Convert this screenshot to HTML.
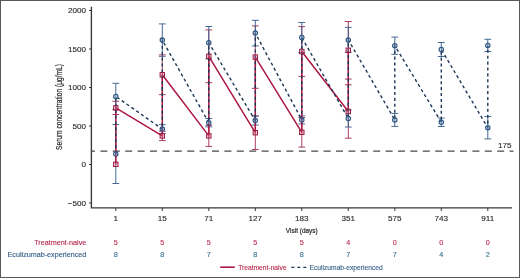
<!DOCTYPE html>
<html><head><meta charset="utf-8"><style>
html,body{margin:0;padding:0;background:#fff;}
body{width:520px;height:278px;overflow:hidden;}
svg{display:block;will-change:transform;}
text{font-family:"Liberation Sans",sans-serif;}
.tk{font-size:8.1px;fill:#262626;stroke:#262626;stroke-width:0.12px;}
.rl{font-size:7.2px;stroke-width:0.12px;}
.lg{font-size:6.7px;stroke-width:0.1px;}
.cd{font-size:8.4px;fill:#1e1e1e;stroke:#1e1e1e;stroke-width:0.2px;}
</style></head><body>
<svg width="520" height="278" viewBox="0 0 520 278">
<path d="M91.4 6.8V207.9H512" stroke="#383838" stroke-width="1.35" fill="none"/>
<path d="M89 10.5H91" stroke="#222" stroke-width="0.9"/>
<text x="86" y="13.40" text-anchor="end" class="tk">2000</text>
<path d="M89 49H91" stroke="#222" stroke-width="0.9"/>
<text x="86" y="51.90" text-anchor="end" class="tk">1500</text>
<path d="M89 87.5H91" stroke="#222" stroke-width="0.9"/>
<text x="86" y="90.40" text-anchor="end" class="tk">1000</text>
<path d="M89 126H91" stroke="#222" stroke-width="0.9"/>
<text x="86" y="128.90" text-anchor="end" class="tk">500</text>
<path d="M89 164.5H91" stroke="#222" stroke-width="0.9"/>
<text x="86" y="167.40" text-anchor="end" class="tk">0</text>
<path d="M89 203H91" stroke="#222" stroke-width="0.9"/>
<text x="86" y="205.90" text-anchor="end" class="tk">−500</text>
<path d="M115.80 207.9V211" stroke="#222" stroke-width="0.9"/>
<text x="115.80" y="221" text-anchor="middle" class="tk">1</text>
<path d="M162.30 207.9V211" stroke="#222" stroke-width="0.9"/>
<text x="162.30" y="221" text-anchor="middle" class="tk">15</text>
<path d="M208.80 207.9V211" stroke="#222" stroke-width="0.9"/>
<text x="208.80" y="221" text-anchor="middle" class="tk">71</text>
<path d="M255.30 207.9V211" stroke="#222" stroke-width="0.9"/>
<text x="255.30" y="221" text-anchor="middle" class="tk">127</text>
<path d="M301.80 207.9V211" stroke="#222" stroke-width="0.9"/>
<text x="301.80" y="221" text-anchor="middle" class="tk">183</text>
<path d="M348.30 207.9V211" stroke="#222" stroke-width="0.9"/>
<text x="348.30" y="221" text-anchor="middle" class="tk">351</text>
<path d="M394.80 207.9V211" stroke="#222" stroke-width="0.9"/>
<text x="394.80" y="221" text-anchor="middle" class="tk">575</text>
<path d="M441.30 207.9V211" stroke="#222" stroke-width="0.9"/>
<text x="441.30" y="221" text-anchor="middle" class="tk">743</text>
<path d="M487.80 207.9V211" stroke="#222" stroke-width="0.9"/>
<text x="487.80" y="221" text-anchor="middle" class="tk">911</text>
<path d="M91.8 151.1H513.5" stroke="#4a4a4a" stroke-width="1.2" stroke-dasharray="7 5.4" stroke-dashoffset="-8.6"/>
<text x="498" y="148.4" class="tk">175</text>
<path d="M115.80 101.30V114.50M112.40 101.30H119.20M112.40 114.50H119.20" stroke="#a02a50" stroke-width="0.9" fill="none"/>
<path d="M162.30 131.20V140.60M158.90 131.20H165.70M158.90 140.60H165.70" stroke="#a02a50" stroke-width="0.9" fill="none"/>
<path d="M162.30 54.85V94.65M158.90 54.85H165.70M158.90 94.65H165.70" stroke="#a02a50" stroke-width="0.9" fill="none"/>
<path d="M208.80 125.40V146.40M205.40 125.40H212.20M205.40 146.40H212.20" stroke="#a02a50" stroke-width="0.9" fill="none"/>
<path d="M208.80 29.90V82.70M205.40 29.90H212.20M205.40 82.70H212.20" stroke="#a02a50" stroke-width="0.9" fill="none"/>
<path d="M255.30 115.90V149.50M251.90 115.90H258.70M251.90 149.50H258.70" stroke="#a02a50" stroke-width="0.9" fill="none"/>
<path d="M255.30 25.90V88.30M251.90 25.90H258.70M251.90 88.30H258.70" stroke="#a02a50" stroke-width="0.9" fill="none"/>
<path d="M301.80 117.50V147.10M298.40 117.50H305.20M298.40 147.10H305.20" stroke="#a02a50" stroke-width="0.9" fill="none"/>
<path d="M301.80 26.60V76.40M298.40 26.60H305.20M298.40 76.40H305.20" stroke="#a02a50" stroke-width="0.9" fill="none"/>
<path d="M348.30 84.80V138.20M344.90 84.80H351.70M344.90 138.20H351.70" stroke="#a02a50" stroke-width="0.9" fill="none"/>
<path d="M348.30 21.50V79.10M344.90 21.50H351.70M344.90 79.10H351.70" stroke="#a02a50" stroke-width="0.9" fill="none"/>
<path d="M115.80 124.50V183.50M112.40 124.50H119.20M112.40 183.50H119.20" stroke="#33598a" stroke-width="0.9" fill="none"/>
<path d="M115.80 83.30V109.50M112.40 83.30H119.20M112.40 109.50H119.20" stroke="#33598a" stroke-width="0.9" fill="none"/>
<path d="M162.30 124.60V133.60M158.90 124.60H165.70M158.90 133.60H165.70" stroke="#33598a" stroke-width="0.9" fill="none"/>
<path d="M162.30 23.90V56.30M158.90 23.90H165.70M158.90 56.30H165.70" stroke="#33598a" stroke-width="0.9" fill="none"/>
<path d="M208.80 118.50V126.90M205.40 118.50H212.20M205.40 126.90H212.20" stroke="#33598a" stroke-width="0.9" fill="none"/>
<path d="M208.80 26.50V59.00M205.40 26.50H212.20M205.40 59.00H212.20" stroke="#33598a" stroke-width="0.9" fill="none"/>
<path d="M255.30 116.20V125.00M251.90 116.20H258.70M251.90 125.00H258.70" stroke="#33598a" stroke-width="0.9" fill="none"/>
<path d="M255.30 20.30V45.90M251.90 20.30H258.70M251.90 45.90H258.70" stroke="#33598a" stroke-width="0.9" fill="none"/>
<path d="M301.80 115.90V123.90M298.40 115.90H305.20M298.40 123.90H305.20" stroke="#33598a" stroke-width="0.9" fill="none"/>
<path d="M301.80 22.50V52.50M298.40 22.50H305.20M298.40 52.50H305.20" stroke="#33598a" stroke-width="0.9" fill="none"/>
<path d="M348.30 110.00V127.00M344.90 110.00H351.70M344.90 127.00H351.70" stroke="#33598a" stroke-width="0.9" fill="none"/>
<path d="M348.30 27.40V52.40M344.90 27.40H351.70M344.90 52.40H351.70" stroke="#33598a" stroke-width="0.9" fill="none"/>
<path d="M394.80 113.40V126.40M391.40 113.40H398.20M391.40 126.40H398.20" stroke="#33598a" stroke-width="0.9" fill="none"/>
<path d="M394.80 37.10V54.30M391.40 37.10H398.20M391.40 54.30H398.20" stroke="#33598a" stroke-width="0.9" fill="none"/>
<path d="M441.30 118.10V126.50M437.90 118.10H444.70M437.90 126.50H444.70" stroke="#33598a" stroke-width="0.9" fill="none"/>
<path d="M441.30 42.50V56.50M437.90 42.50H444.70M437.90 56.50H444.70" stroke="#33598a" stroke-width="0.9" fill="none"/>
<path d="M487.80 116.50V138.90M484.40 116.50H491.20M484.40 138.90H491.20" stroke="#33598a" stroke-width="0.9" fill="none"/>
<path d="M487.80 39.30V51.50M484.40 39.30H491.20M484.40 51.50H491.20" stroke="#33598a" stroke-width="0.9" fill="none"/>
<path d="M115.80 164.30 L115.80 107.90 L162.30 135.90 L162.30 74.75 L208.80 135.90 L208.80 56.30 L255.30 132.70 L255.30 57.10 L301.80 132.30 L301.80 51.50 L348.30 111.50 L348.30 50.30" stroke="#ad1843" stroke-width="1.5" fill="none" stroke-linejoin="round"/>
<path d="M115.80 154.00 L115.80 96.40 L162.30 129.10 L162.30 40.10 L208.80 122.70 L208.80 42.75 L255.30 120.60 L255.30 33.10 L301.80 119.90 L301.80 37.50 L348.30 118.50 L348.30 39.90 L394.80 119.90 L394.80 45.70 L441.30 122.30 L441.30 49.50 L487.80 127.70 L487.80 45.40" stroke="#1d3656" stroke-width="1.4" fill="none" stroke-dasharray="3.1 2.8"/>
<rect x="113.60" y="162.10" width="4.4" height="4.4" fill="rgba(225,120,150,0.35)" stroke="#9a1a40" stroke-width="1"/>
<rect x="113.60" y="105.70" width="4.4" height="4.4" fill="rgba(225,120,150,0.35)" stroke="#9a1a40" stroke-width="1"/>
<rect x="160.10" y="133.70" width="4.4" height="4.4" fill="rgba(225,120,150,0.35)" stroke="#9a1a40" stroke-width="1"/>
<rect x="160.10" y="72.55" width="4.4" height="4.4" fill="rgba(225,120,150,0.35)" stroke="#9a1a40" stroke-width="1"/>
<rect x="206.60" y="133.70" width="4.4" height="4.4" fill="rgba(225,120,150,0.35)" stroke="#9a1a40" stroke-width="1"/>
<rect x="206.60" y="54.10" width="4.4" height="4.4" fill="rgba(225,120,150,0.35)" stroke="#9a1a40" stroke-width="1"/>
<rect x="253.10" y="130.50" width="4.4" height="4.4" fill="rgba(225,120,150,0.35)" stroke="#9a1a40" stroke-width="1"/>
<rect x="253.10" y="54.90" width="4.4" height="4.4" fill="rgba(225,120,150,0.35)" stroke="#9a1a40" stroke-width="1"/>
<rect x="299.60" y="130.10" width="4.4" height="4.4" fill="rgba(225,120,150,0.35)" stroke="#9a1a40" stroke-width="1"/>
<rect x="299.60" y="49.30" width="4.4" height="4.4" fill="rgba(225,120,150,0.35)" stroke="#9a1a40" stroke-width="1"/>
<rect x="346.10" y="109.30" width="4.4" height="4.4" fill="rgba(225,120,150,0.35)" stroke="#9a1a40" stroke-width="1"/>
<rect x="346.10" y="48.10" width="4.4" height="4.4" fill="rgba(225,120,150,0.35)" stroke="#9a1a40" stroke-width="1"/>
<circle cx="115.80" cy="154.00" r="2.2" fill="rgba(140,175,215,0.35)" stroke="#2b5482" stroke-width="1.1"/>
<circle cx="115.80" cy="96.40" r="2.2" fill="rgba(140,175,215,0.35)" stroke="#2b5482" stroke-width="1.1"/>
<circle cx="162.30" cy="129.10" r="2.2" fill="rgba(140,175,215,0.35)" stroke="#2b5482" stroke-width="1.1"/>
<circle cx="162.30" cy="40.10" r="2.2" fill="rgba(140,175,215,0.35)" stroke="#2b5482" stroke-width="1.1"/>
<circle cx="208.80" cy="122.70" r="2.2" fill="rgba(140,175,215,0.35)" stroke="#2b5482" stroke-width="1.1"/>
<circle cx="208.80" cy="42.75" r="2.2" fill="rgba(140,175,215,0.35)" stroke="#2b5482" stroke-width="1.1"/>
<circle cx="255.30" cy="120.60" r="2.2" fill="rgba(140,175,215,0.35)" stroke="#2b5482" stroke-width="1.1"/>
<circle cx="255.30" cy="33.10" r="2.2" fill="rgba(140,175,215,0.35)" stroke="#2b5482" stroke-width="1.1"/>
<circle cx="301.80" cy="119.90" r="2.2" fill="rgba(140,175,215,0.35)" stroke="#2b5482" stroke-width="1.1"/>
<circle cx="301.80" cy="37.50" r="2.2" fill="rgba(140,175,215,0.35)" stroke="#2b5482" stroke-width="1.1"/>
<circle cx="348.30" cy="118.50" r="2.2" fill="rgba(140,175,215,0.35)" stroke="#2b5482" stroke-width="1.1"/>
<circle cx="348.30" cy="39.90" r="2.2" fill="rgba(140,175,215,0.35)" stroke="#2b5482" stroke-width="1.1"/>
<circle cx="394.80" cy="119.90" r="2.2" fill="rgba(140,175,215,0.35)" stroke="#2b5482" stroke-width="1.1"/>
<circle cx="394.80" cy="45.70" r="2.2" fill="rgba(140,175,215,0.35)" stroke="#2b5482" stroke-width="1.1"/>
<circle cx="441.30" cy="122.30" r="2.2" fill="rgba(140,175,215,0.35)" stroke="#2b5482" stroke-width="1.1"/>
<circle cx="441.30" cy="49.50" r="2.2" fill="rgba(140,175,215,0.35)" stroke="#2b5482" stroke-width="1.1"/>
<circle cx="487.80" cy="127.70" r="2.2" fill="rgba(140,175,215,0.35)" stroke="#2b5482" stroke-width="1.1"/>
<circle cx="487.80" cy="45.40" r="2.2" fill="rgba(140,175,215,0.35)" stroke="#2b5482" stroke-width="1.1"/>
<g transform="translate(61.7 107.0) rotate(-90)"><text x="-42.9" y="0" class="cd" textLength="85.8" lengthAdjust="spacingAndGlyphs">Serum concentration (μg/mL)</text></g>
<g transform="translate(301.8 233) scale(0.81 1)"><text x="0" y="0" text-anchor="middle" class="cd" style="font-size:8px">Visit (days)</text></g>
<text x="86.3" y="245.4" text-anchor="end" class="rl" fill="#b5264d" stroke="#b5264d">Treatment-naive</text>
<text x="86.3" y="256.6" text-anchor="end" class="rl" fill="#2e5a84" stroke="#2e5a84">Eculizumab-experienced</text>
<text x="115.80" y="245.2" text-anchor="middle" class="rl" fill="#bb2a4e" stroke="#bb2a4e">5</text>
<text x="115.80" y="256.8" text-anchor="middle" class="rl" fill="#33708f" stroke="#33708f">8</text>
<text x="162.30" y="245.2" text-anchor="middle" class="rl" fill="#bb2a4e" stroke="#bb2a4e">5</text>
<text x="162.30" y="256.8" text-anchor="middle" class="rl" fill="#33708f" stroke="#33708f">8</text>
<text x="208.80" y="245.2" text-anchor="middle" class="rl" fill="#bb2a4e" stroke="#bb2a4e">5</text>
<text x="208.80" y="256.8" text-anchor="middle" class="rl" fill="#33708f" stroke="#33708f">7</text>
<text x="255.30" y="245.2" text-anchor="middle" class="rl" fill="#bb2a4e" stroke="#bb2a4e">5</text>
<text x="255.30" y="256.8" text-anchor="middle" class="rl" fill="#33708f" stroke="#33708f">8</text>
<text x="301.80" y="245.2" text-anchor="middle" class="rl" fill="#bb2a4e" stroke="#bb2a4e">5</text>
<text x="301.80" y="256.8" text-anchor="middle" class="rl" fill="#33708f" stroke="#33708f">8</text>
<text x="348.30" y="245.2" text-anchor="middle" class="rl" fill="#bb2a4e" stroke="#bb2a4e">4</text>
<text x="348.30" y="256.8" text-anchor="middle" class="rl" fill="#33708f" stroke="#33708f">7</text>
<text x="394.80" y="245.2" text-anchor="middle" class="rl" fill="#bb2a4e" stroke="#bb2a4e">0</text>
<text x="394.80" y="256.8" text-anchor="middle" class="rl" fill="#33708f" stroke="#33708f">7</text>
<text x="441.30" y="245.2" text-anchor="middle" class="rl" fill="#bb2a4e" stroke="#bb2a4e">0</text>
<text x="441.30" y="256.8" text-anchor="middle" class="rl" fill="#33708f" stroke="#33708f">4</text>
<text x="487.80" y="245.2" text-anchor="middle" class="rl" fill="#bb2a4e" stroke="#bb2a4e">0</text>
<text x="487.80" y="256.8" text-anchor="middle" class="rl" fill="#33708f" stroke="#33708f">2</text>
<path d="M220.2 267.2H234.8" stroke="#ad1843" stroke-width="1.6"/>
<text x="238.2" y="269.6" class="lg" fill="#b5264d" stroke="#b5264d">Treatment-naive</text>
<path d="M291.3 267.4H307" stroke="#1d3656" stroke-width="1.4" stroke-dasharray="3 3"/>
<text x="309.5" y="269.6" class="lg" fill="#2e5a84" stroke="#2e5a84">Eculizumab-experienced</text>
<rect x="0.5" y="0.5" width="519" height="277" fill="none" stroke="#585858" stroke-width="1"/>
</svg>
</body></html>
